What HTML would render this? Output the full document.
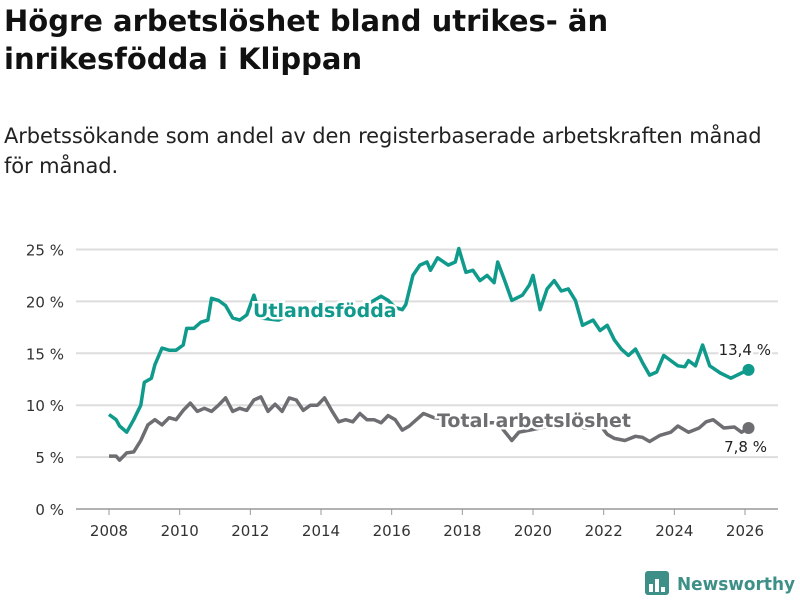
<!DOCTYPE html>
<html><head><meta charset="utf-8"><style>
body{margin:0;background:#fff;font-family:"Liberation Sans","DejaVu Sans",sans-serif;}
.wrap{position:relative;width:800px;height:600px;overflow:hidden}
h1{position:absolute;left:4px;top:2px;margin:0;font-size:29px;line-height:38px;font-weight:bold;color:#111;font-family:"DejaVu Sans",sans-serif}
.sub{position:absolute;left:4px;top:121px;font-size:21px;line-height:30px;color:#222;font-family:"DejaVu Sans",sans-serif;letter-spacing:-0.1px}
svg text{font-family:"DejaVu Sans",sans-serif}
</style></head><body><div class="wrap">
<h1>Högre arbetslöshet bland utrikes- än<br>inrikesfödda i Klippan</h1>
<div class="sub">Arbetssökande som andel av den registerbaserade arbetskraften månad<br>för månad.</div>
<svg id="c" width="800" height="600" style="position:absolute;left:0;top:0"></svg>
</div>
<script>
const yTicks=[0,5,10,15,20,25];
const xTicks=[2008,2010,2012,2014,2016,2018,2020,2022,2024,2026];
const utlT=[2008.0,2008.2,2008.3,2008.5,2008.7,2008.9,2009.0,2009.2,2009.3,2009.5,2009.7,2009.9,2010.1,2010.2,2010.4,2010.6,2010.8,2010.9,2011.1,2011.3,2011.5,2011.7,2011.9,2012.1,2012.3,2012.8,2013.3,2013.8,2014.3,2014.8,2015.3,2015.7,2015.9,2016.1,2016.3,2016.4,2016.6,2016.8,2017.0,2017.1,2017.3,2017.6,2017.8,2017.9,2018.1,2018.3,2018.5,2018.7,2018.9,2019.0,2019.2,2019.4,2019.7,2019.9,2020.0,2020.2,2020.4,2020.6,2020.8,2021.0,2021.2,2021.4,2021.7,2021.9,2022.1,2022.3,2022.5,2022.7,2022.9,2023.1,2023.3,2023.5,2023.7,2023.9,2024.1,2024.3,2024.4,2024.6,2024.8,2025.0,2025.3,2025.6,2025.9,2026.1];
const utlV=[9.1,8.6,8.0,7.4,8.6,10.0,12.2,12.6,13.9,15.5,15.3,15.3,15.8,17.4,17.4,18.0,18.2,20.3,20.1,19.6,18.4,18.2,18.7,20.6,18.4,18.2,19.0,19.4,18.4,19.0,19.7,20.5,20.1,19.4,19.2,19.7,22.5,23.5,23.8,23.0,24.2,23.5,23.8,25.1,22.8,23.0,22.0,22.5,21.8,23.8,22.0,20.1,20.6,21.6,22.5,19.2,21.2,22.0,21.0,21.2,20.1,17.7,18.2,17.2,17.7,16.3,15.4,14.8,15.4,14.1,12.9,13.2,14.8,14.3,13.8,13.7,14.3,13.8,15.8,13.8,13.1,12.6,13.1,13.4];
const totT=[2008.0,2008.2,2008.3,2008.5,2008.7,2008.9,2009.1,2009.3,2009.5,2009.7,2009.9,2010.1,2010.3,2010.5,2010.7,2010.9,2011.1,2011.3,2011.5,2011.7,2011.9,2012.1,2012.3,2012.5,2012.7,2012.9,2013.1,2013.3,2013.5,2013.7,2013.9,2014.1,2014.3,2014.5,2014.7,2014.9,2015.1,2015.3,2015.5,2015.7,2015.9,2016.1,2016.3,2016.5,2016.7,2016.9,2017.2,2017.8,2018.4,2019.0,2019.4,2019.6,2019.9,2020.2,2020.6,2021.0,2021.5,2021.9,2022.1,2022.3,2022.6,2022.9,2023.1,2023.3,2023.6,2023.9,2024.1,2024.4,2024.7,2024.9,2025.1,2025.4,2025.7,2025.9,2026.1];
const totV=[5.1,5.1,4.7,5.4,5.5,6.6,8.1,8.6,8.1,8.8,8.6,9.5,10.2,9.4,9.7,9.4,10.0,10.7,9.4,9.7,9.5,10.5,10.8,9.4,10.1,9.4,10.7,10.5,9.5,10.0,10.0,10.7,9.5,8.4,8.6,8.4,9.2,8.6,8.6,8.3,9.0,8.6,7.6,8.0,8.6,9.2,8.8,8.6,8.3,8.3,6.6,7.4,7.6,7.8,8.1,8.1,7.8,8.1,7.2,6.8,6.6,7.0,6.9,6.5,7.1,7.4,8.0,7.4,7.8,8.4,8.6,7.8,7.9,7.4,7.8];
const svg=document.getElementById('c');const NS='http://www.w3.org/2000/svg';
const X=v=>109+(v-2008)*(745-109)/18, Y=v=>509-v*10.38;
function mk(t,a,p){const e=document.createElementNS(NS,t);for(const k in a)e.setAttribute(k,a[k]);(p||svg).appendChild(e);return e;}
yTicks.forEach(v=>{
const l=mk('line',{x1:76,x2:778,y1:Y(v),y2:Y(v),stroke:v==0?'#999':'#ddd','stroke-width':v==0?1.5:2});


const t=mk('text',{x:64,y:Y(v)+6,'text-anchor':'end','font-size':15,fill:'#333'});t.textContent=v+' %';


});
xTicks.forEach(v=>{
const l=mk('line',{x1:X(v),x2:X(v),y1:509,y2:515,stroke:'#999'});


const t=mk('text',{x:X(v),y:536,'text-anchor':'middle','font-size':15,fill:'#333'});t.textContent=v;


});
function line(T,V,c,n){
const p=mk('path',{d:T.map((t,i)=>(i?'L':'M')+X(t).toFixed(1)+','+Y(V[i]).toFixed(1)).join(''),fill:'none',stroke:c,'stroke-width':3.5,'stroke-linejoin':'round'});


const d=mk('circle',{cx:X(T[T.length-1]),cy:Y(V[V.length-1]),r:6,fill:c});


}
line(totT,totV,'#6e6d72','total');
line(utlT,utlV,'#0f9a8c','utlandsfodda');
function lab(x,y,s,c,n,fs,w,anchor){
const t=mk('text',{x:x,y:y,'font-size':fs,'font-weight':w,fill:c,stroke:'#fff','stroke-width':w=='bold'?5:4,'paint-order':'stroke','text-anchor':anchor||'start'});t.textContent=s;


}
lab(253,317,'Utlandsfödda','#0f9a8c','series-label-utlandsfodda',19,'bold');
lab(437,427,'Total arbetslöshet','#6e6d72','series-label-total',19,'bold');
lab(771,355,'13,4 %','#222','end-value-utlandsfodda',15,'normal','end');
lab(767,452,'7,8 %','#222','end-value-total',15,'normal','end');
const g=mk('g',{});
mk('rect',{x:645,y:571,width:24,height:24,rx:3,fill:'#3d8f87'},g);
[[649,584,4,8],[655,579,4,13],[661,587,4,5]].forEach(r=>mk('rect',{x:r[0],y:r[1],width:r[2],height:r[3],fill:'#fff'},g));
const lt=mk('text',{x:677,y:590,'font-size':18,'font-weight':'bold',fill:'#3d8f87',textLength:118,lengthAdjust:'spacingAndGlyphs'},g);lt.textContent='Newsworthy';
</script></body></html>
